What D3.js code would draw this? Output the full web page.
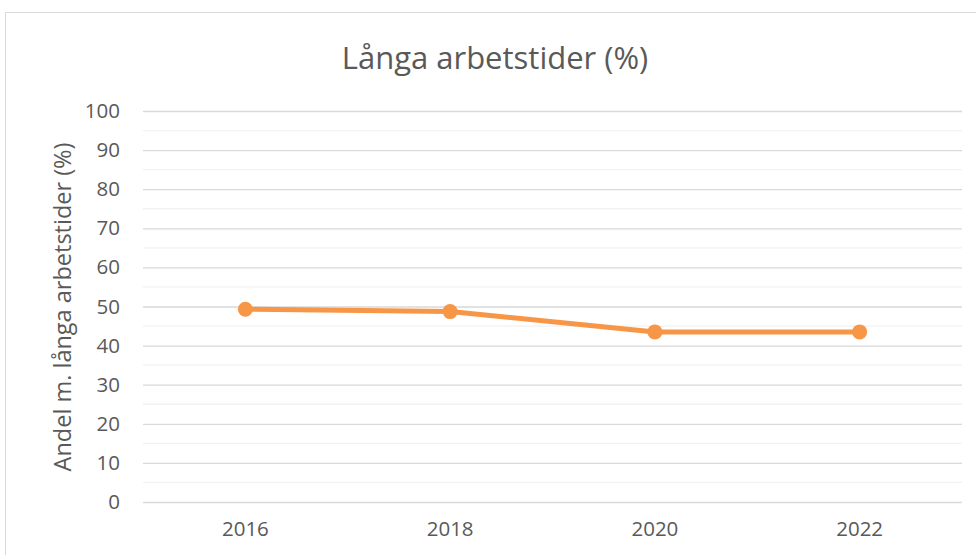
<!DOCTYPE html>
<html>
<head>
<meta charset="utf-8">
<script src="https://cdn.jsdelivr.net/npm/d3@7"></script>
<style>
  body { margin: 0; background: #fff; }
  text { font-family: "Open Sans", "Noto Sans", sans-serif; fill: #595959; }
</style>
</head>
<body>
<div id="chart"></div>
<script>
// data
var years = ["2016", "2018", "2020", "2022"];
var values = [49.3, 48.7, 43.5, 43.5];
var yTicks = [0, 10, 20, 30, 40, 50, 60, 70, 80, 90, 100];
var minorTicks = [5, 15, 25, 35, 45, 55, 65, 75, 85, 95];

var svgWidth = 976;
var svgHeight = 555;
var margin = { top: 111, right: 14, bottom: 53, left: 143 };
var width = svgWidth - margin.left - margin.right;
var height = svgHeight - margin.top - margin.bottom;

var svg = d3.select("#chart")
    .append("svg")
    .attr("width", svgWidth)
    .attr("height", svgHeight);

// outer chart border
svg.append("rect")
    .attr("x", 5.5)
    .attr("y", 12.5)
    .attr("width", 980)
    .attr("height", 560)
    .attr("fill", "none")
    .attr("stroke", "#d9d9d9");

var chartGroup = svg.append("g")
    .attr("transform", `translate(${margin.left}, ${margin.top})`);

var x = d3.scaleBand().domain(years).range([0, width]);
var y = d3.scaleLinear().domain([0, 100]).range([height, 0]);

// minor gridlines
chartGroup.append("g")
    .selectAll("line")
    .data(minorTicks)
    .enter()
    .append("line")
    .attr("x1", 0)
    .attr("x2", width)
    .attr("y1", d => y(d))
    .attr("y2", d => y(d))
    .attr("stroke", "#f2f2f2")
    .attr("stroke-width", 1.3);

// major gridlines + labels
var leftAxis = d3.axisLeft(y)
    .tickValues(yTicks)
    .tickSize(-width)
    .tickPadding(23);

var yAxisG = chartGroup.append("g").call(leftAxis);
yAxisG.select(".domain").remove();
yAxisG.selectAll(".tick line").attr("stroke", "#d9d9d9").attr("stroke-width", 1.3);
yAxisG.selectAll(".tick text")
    .style("font-size", "20.5px")
    .style("font-family", "'Open Sans', sans-serif")
    .attr("fill", "#595959");

var bottomAxis = d3.axisBottom(x).tickSize(0).tickPadding(19);
var xAxisG = chartGroup.append("g")
    .attr("transform", `translate(0, ${height})`)
    .call(bottomAxis);
xAxisG.select(".domain").remove();
xAxisG.selectAll(".tick text")
    .style("font-size", "20.5px")
    .style("font-family", "'Open Sans', sans-serif")
    .attr("fill", "#595959");

// the line
var line = d3.line()
    .x((d, i) => x(years[i]) + x.bandwidth() / 2)
    .y(d => y(d));

chartGroup.append("path")
    .datum(values)
    .attr("d", line)
    .attr("fill", "none")
    .attr("stroke", "#f79646")
    .attr("stroke-width", 5)
    .attr("stroke-linejoin", "round");

chartGroup.selectAll("circle")
    .data(values)
    .enter()
    .append("circle")
    .attr("cx", (d, i) => x(years[i]) + x.bandwidth() / 2)
    .attr("cy", d => y(d))
    .attr("r", 7.5)
    .attr("fill", "#f79646");

// title
svg.append("text")
    .attr("x", 495)
    .attr("y", 69)
    .attr("text-anchor", "middle")
    .style("font-size", "31px")
    .text("Långa arbetstider (%)");

// y axis label
svg.append("text")
    .attr("transform", "translate(71, 307) rotate(-90)")
    .attr("text-anchor", "middle")
    .style("font-size", "23.5px")
    .text("Andel m. långa arbetstider (%)");
</script>
</body>
</html>
